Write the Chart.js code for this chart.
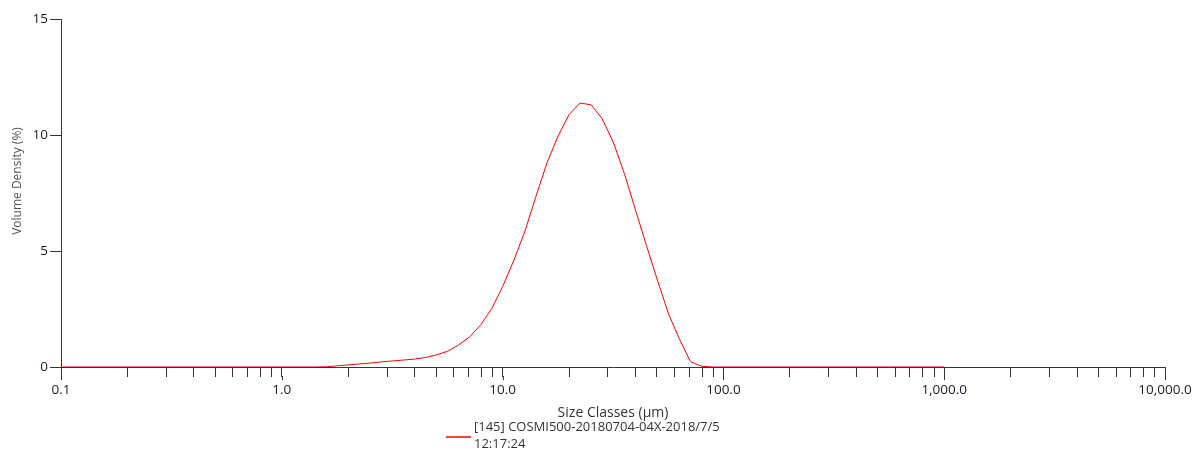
<!DOCTYPE html>
<html><head><meta charset="utf-8">
<script src="https://cdn.jsdelivr.net/npm/chart.js@4/dist/chart.umd.min.js"></script>
<style>html,body{margin:0;padding:0;background:#fff;}</style>
</head><body>
<canvas id="c" width="1200" height="451"></canvas>
<script>
// Size classes (µm) of the measurement
const sizeClasses = [0.100, 0.112, 0.126, 0.142, 0.159, 0.178, 0.200, 0.224, 0.252, 0.283,
  0.317, 0.356, 0.399, 0.448, 0.502, 0.564, 0.632, 0.710, 0.796, 0.893,
  1.002, 1.125, 1.262, 1.416, 1.589, 1.783, 2.000, 2.244, 2.518, 2.825,
  3.170, 3.557, 3.991, 4.477, 5.024, 5.637, 6.325, 7.096, 7.962, 8.934,
  10.024, 11.247, 12.619, 14.159, 15.887, 17.825, 20.000, 22.440, 25.179, 28.251,
  31.698, 35.566, 39.905, 44.774, 50.238, 56.368, 63.246, 70.963, 79.621, 89.337,
  100.237, 112.468, 126.191, 141.589, 158.866, 178.250, 200.000, 224.404, 251.785, 282.508,
  316.979, 355.656, 399.052, 447.744, 502.377, 563.677, 632.456, 709.627, 796.214, 893.367,
  1002.374];
// Volume density (%) per class
const volumeDensity = [0, 0, 0, 0, 0, 0, 0, 0, 0, 0,
  0, 0, 0, 0, 0, 0, 0, 0, 0, 0,
  0, 0, 0, 0, 0.01, 0.05, 0.09, 0.13, 0.17, 0.22,
  0.26, 0.30, 0.34, 0.41, 0.52, 0.68, 0.95, 1.30, 1.82, 2.52,
  3.48, 4.60, 5.85, 7.35, 8.80, 9.95, 10.88, 11.38, 11.30, 10.70,
  9.70, 8.35, 6.80, 5.25, 3.75, 2.30, 1.20, 0.23, 0.03, 0,
  0, 0, 0, 0, 0, 0, 0, 0, 0, 0,
  0, 0, 0, 0, 0, 0, 0, 0, 0, 0,
  0];
const seriesLabel = ['[145] COSMI500-20180704-04X-2018/7/5', '12:17:24'];
const xTickValues = [0.1, 0.2, 0.3, 0.4, 0.5, 0.6, 0.7, 0.8, 0.9,
  1, 2, 3, 4, 5, 6, 7, 8, 9,
  10, 20, 30, 40, 50, 60, 70, 80, 90,
  100, 200, 300, 400, 500, 600, 700, 800, 900,
  1000, 2000, 3000, 4000, 5000, 6000, 7000, 8000, 9000,
  10000];
const xTickLabels = {'0.1': '0.1', '1': '1.0', '10': '10.0', '100': '100.0', '1000': '1,000.0', '10000': '10,000.0'};
const yTickValues = [0, 5, 10, 15];
const xTitle = 'Size Classes (µm)';
const yTitle = 'Volume Density (%)';

Chart.defaults.font.family = '"Open Sans", sans-serif';
Chart.defaults.font.size = 13.5;

const textPlugin = {
  id: 'legendAndYTitle',
  afterDraw(chart) {
    const ctx = chart.ctx;
    const ds = chart.data.datasets[0];
    const ca = chart.chartArea;
    const cx = (ca.left + ca.right) / 2;
    const lx = cx - 167;
    ctx.save();
    // longer marks for the labelled decade ticks
    const xs = chart.scales.x;
    ctx.strokeStyle = '#333';
    ctx.lineWidth = 1;
    Object.keys(xTickLabels).forEach(k => {
      const px = Math.round(xs.getPixelForValue(Number(k))) + 0.5;
      ctx.beginPath();
      ctx.moveTo(px, ca.bottom + 9);
      ctx.lineTo(px, ca.bottom + 13);
      ctx.stroke();
    });
    // legend
    ctx.strokeStyle = ds.borderColor;
    ctx.lineWidth = 1.5;
    ctx.beginPath();
    ctx.moveTo(lx, ca.bottom + 70);
    ctx.lineTo(lx + 25, ca.bottom + 70);
    ctx.stroke();
    ctx.fillStyle = '#333';
    ctx.font = '13px "Open Sans", sans-serif';
    ctx.textBaseline = 'middle';
    ctx.textAlign = 'left';
    seriesLabel.forEach((t, i) => ctx.fillText(t, lx + 28, ca.bottom + 60 + i * 17));
    // y axis title
    ctx.translate(18, ca.top + 162);
    ctx.rotate(-Math.PI / 2);
    ctx.textAlign = 'center';
    ctx.fillStyle = '#555';
    ctx.font = '12px "Open Sans", sans-serif';
    ctx.fillText(yTitle, 0, 0);
    ctx.restore();
  }
};

new Chart(document.getElementById('c'), {
  type: 'line',
  data: {
    datasets: [{
      label: seriesLabel.join(' '),
      data: sizeClasses.map((x, i) => ({x: x, y: volumeDensity[i]})),
      borderColor: '#ff0000',
      borderWidth: 1,
      pointRadius: 0,
      tension: 0,
      fill: false
    }]
  },
  options: {
    responsive: false,
    animation: false,
    layout: {padding: {top: 19, right: 35, bottom: 0, left: 0}},
    plugins: {legend: {display: false}, tooltip: {enabled: false}},
    scales: {
      x: {
        type: 'logarithmic',
        min: 0.1, max: 10000,
        afterBuildTicks: (s) => { s.ticks = xTickValues.map(v => ({value: v})); },
        afterFit: (s) => { s.height = 84; },
        ticks: {
          autoSkip: false, maxRotation: 0, color: '#1a1a2a', padding: 5,
          callback: (v) => xTickLabels[String(v)] ?? ''
        },
        grid: {drawOnChartArea: false, drawTicks: true, tickLength: 10, color: '#333'},
        border: {display: true, color: '#333'},
        title: {display: true, text: xTitle, color: '#333', font: {size: 14}, padding: {top: 0, bottom: 30}}
      },
      y: {
        type: 'linear',
        min: 0, max: 15,
        afterBuildTicks: (s) => { s.ticks = yTickValues.map(v => ({value: v})); },
        afterFit: (s) => { s.width = 61; },
        ticks: {color: '#1a1a2a', padding: 2},
        grid: {drawOnChartArea: false, drawTicks: true, tickLength: 11, color: '#333'},
        border: {display: true, color: '#333'},
        title: {display: false, text: yTitle}
      }
    }
  },
  plugins: [textPlugin]
});
</script>
</body></html>
